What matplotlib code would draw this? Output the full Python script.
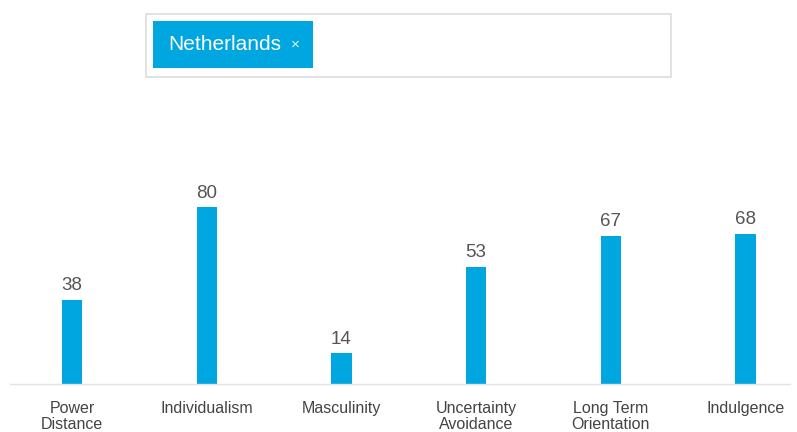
import matplotlib.pyplot as plt
from matplotlib.patches import Rectangle

categories = ["Power\nDistance", "Individualism", "Masculinity",
              "Uncertainty\nAvoidance", "Long Term\nOrientation", "Indulgence"]
scores = [38, 80, 14, 53, 67, 68]
country = "Netherlands"

W, H = 797, 432
blue = "#00a6df"
fam = ["Liberation Sans Narrow", "Liberation Sans", "DejaVu Sans"]

fig = plt.figure(figsize=(W / 100, H / 100), dpi=100)

# bar chart axes: baseline at y=384px, value 100 at y=163px
ax = fig.add_axes([10 / W, (H - 384) / H, 780 / W, 221 / H])
x = list(range(len(scores)))
bars = ax.bar(x, scores, width=0.15, color=blue, zorder=2)
for xi, s in zip(x, scores):
    ax.text(xi, s + 2.5, str(s), ha="center", va="bottom", fontsize=13.5,
            color="#555555", family=fam)
ax.set_xlim(-0.46, 5.33)
ax.set_ylim(0, 100)
for sp in ["top", "right", "left"]:
    ax.spines[sp].set_visible(False)
ax.spines["bottom"].set_color("#e3e3e3")
ax.spines["bottom"].set_linewidth(1)
ax.set_yticks([])
ax.set_xticks(x)
ax.set_xticklabels(categories, fontsize=11.5, color="#444444", family=fam,
                   linespacing=1.15, va="top")
ax.tick_params(axis="x", length=0, pad=12)

# search box with tag on top
fig.patches.append(Rectangle((146 / W, (H - 77) / H), 525 / W, 63 / H,
                             transform=fig.transFigure, facecolor="white",
                             edgecolor="#dddddd", linewidth=1.2))
fig.patches.append(Rectangle((153 / W, (H - 68) / H), 160 / W, 47 / H,
                             transform=fig.transFigure, facecolor=blue,
                             edgecolor="none"))
fig.text(168 / W, (H - 45) / H, country, color="white", fontsize=15,
         family=fam, va="center", ha="left")
fig.text(295 / W, (H - 45) / H, "\u00d7", color="#dff3fb", fontsize=11,
         family=fam, va="center", ha="center")

plt.savefig("out.png", dpi=100)
